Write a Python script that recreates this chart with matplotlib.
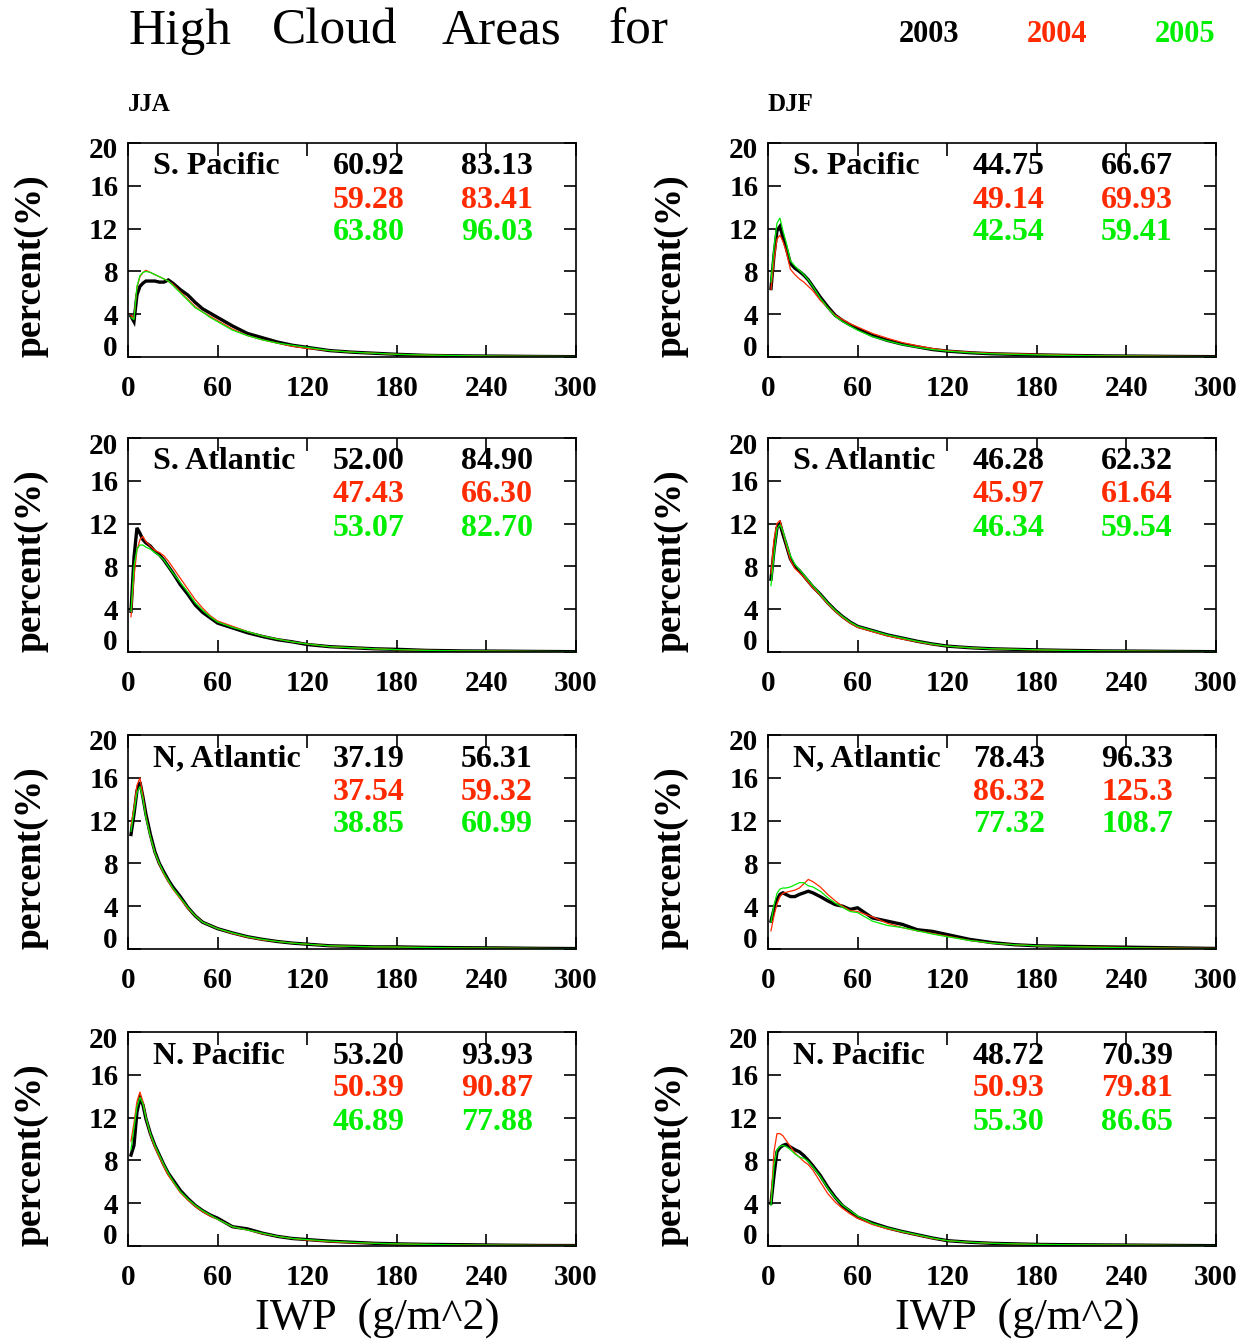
import matplotlib
matplotlib.use("Agg")
import matplotlib.pyplot as plt

W, H = 1255, 1340
DPI = 100

iwp = [2, 4, 6, 8, 10, 12, 15, 18, 21, 24, 27, 30, 35, 40, 45, 50, 55, 60, 70, 80,
       90, 100, 110, 120, 135, 150, 165, 180, 200, 225, 250, 275, 300]

years = ["2003", "2004", "2005"]
year_colors = ["#000000", "#ff2a00", "#00ee00"]
seasons = ["JJA", "DJF"]
regions = ["S. Pacific", "S. Atlantic", "N, Atlantic", "N. Pacific"]
title_words = ["High", "Cloud", "Areas", "for"]

# ---- JJA ----
jja_spac_2003 = [3.8, 3.3, 5.8, 6.6, 6.9, 7.1, 7.1, 7.1, 7.0, 7.0, 7.2, 6.9, 6.3, 5.8, 5.1, 4.5, 4.1, 3.7, 2.9, 2.2,
                 1.8, 1.4, 1.1, 0.9, 0.6, 0.45, 0.35, 0.25, 0.15, 0.1, 0.08, 0.05, 0.03]
jja_spac_2004 = [3.9, 3.6, 6.5, 7.5, 7.9, 8.1, 7.9, 7.7, 7.5, 7.3, 7.1, 6.8, 6.1, 5.4, 4.7, 4.2, 3.8, 3.4, 2.6, 2.0,
                 1.6, 1.3, 1.0, 0.8, 0.6, 0.45, 0.35, 0.25, 0.18, 0.12, 0.08, 0.06, 0.04]
jja_spac_2005 = [3.7, 3.5, 6.6, 7.6, 7.9, 8.0, 7.9, 7.7, 7.5, 7.3, 7.1, 6.7, 6.0, 5.3, 4.6, 4.2, 3.7, 3.3, 2.5, 2.0,
                 1.6, 1.3, 1.1, 0.9, 0.6, 0.45, 0.35, 0.25, 0.18, 0.12, 0.08, 0.06, 0.04]

jja_satl_2003 = [3.8, 8.8, 11.6, 11.1, 10.5, 10.2, 9.9, 9.4, 9.1, 8.6, 8.0, 7.4, 6.3, 5.4, 4.4, 3.7, 3.2, 2.7, 2.25, 1.8,
                 1.45, 1.15, 0.95, 0.7, 0.5, 0.4, 0.3, 0.25, 0.15, 0.1, 0.08, 0.05, 0.03]
jja_satl_2004 = [3.3, 7.0, 9.5, 10.5, 10.8, 10.3, 9.9, 9.5, 9.3, 9.0, 8.5, 7.9, 6.9, 5.9, 4.9, 4.1, 3.4, 2.9, 2.4, 1.9,
                 1.5, 1.2, 0.95, 0.75, 0.5, 0.4, 0.3, 0.22, 0.15, 0.1, 0.08, 0.05, 0.03]
jja_satl_2005 = [3.8, 8.0, 9.6, 10.0, 10.0, 9.8, 9.6, 9.3, 9.0, 8.6, 8.0, 7.4, 6.5, 5.6, 4.6, 3.9, 3.3, 2.8, 2.3, 1.9,
                 1.5, 1.2, 0.95, 0.75, 0.5, 0.4, 0.3, 0.22, 0.15, 0.1, 0.08, 0.05, 0.03]

jja_natl_2003 = [10.7, 12.6, 14.8, 15.6, 14.2, 12.6, 10.7, 9.1, 8.0, 7.2, 6.45, 5.8, 4.9, 3.9, 3.1, 2.5, 2.2, 1.9, 1.5, 1.15,
                 0.9, 0.7, 0.55, 0.45, 0.3, 0.25, 0.2, 0.2, 0.15, 0.12, 0.1, 0.06, 0.04]
jja_natl_2004 = [11.5, 13.2, 15.3, 16.0, 14.3, 12.4, 10.5, 9.0, 7.9, 7.0, 6.3, 5.6, 4.7, 3.8, 3.1, 2.5, 2.2, 1.9, 1.45, 1.1,
                 0.85, 0.7, 0.55, 0.45, 0.3, 0.25, 0.2, 0.18, 0.14, 0.1, 0.08, 0.05, 0.03]
jja_natl_2005 = [11.0, 12.8, 14.6, 15.2, 14.0, 12.3, 10.5, 9.0, 8.0, 7.1, 6.4, 5.7, 4.8, 3.9, 3.1, 2.5, 2.2, 1.9, 1.5, 1.15,
                 0.9, 0.7, 0.55, 0.45, 0.3, 0.25, 0.2, 0.18, 0.14, 0.1, 0.08, 0.05, 0.03]

jja_npac_2003 = [8.5, 9.4, 12.5, 13.8, 13.2, 11.9, 10.5, 9.4, 8.5, 7.6, 6.8, 6.2, 5.2, 4.45, 3.8, 3.3, 2.9, 2.6, 1.8, 1.6,
                 1.2, 0.9, 0.7, 0.6, 0.45, 0.35, 0.25, 0.2, 0.15, 0.12, 0.08, 0.05, 0.04]
jja_npac_2004 = [9.8, 11.5, 13.5, 14.4, 13.5, 12.0, 10.4, 9.2, 8.3, 7.4, 6.6, 6.0, 5.0, 4.3, 3.7, 3.2, 2.8, 2.5, 1.8, 1.5,
                 1.15, 0.9, 0.7, 0.55, 0.4, 0.3, 0.25, 0.2, 0.15, 0.1, 0.08, 0.06, 0.05]
jja_npac_2005 = [9.0, 11.0, 13.0, 13.9, 13.3, 12.0, 10.5, 9.4, 8.5, 7.6, 6.8, 6.1, 5.1, 4.4, 3.8, 3.3, 2.9, 2.5, 1.8, 1.5,
                 1.2, 0.9, 0.7, 0.6, 0.45, 0.35, 0.25, 0.2, 0.15, 0.1, 0.08, 0.05, 0.04]

# ---- DJF ----
djf_spac_2003 = [6.4, 9.5, 11.8, 12.2, 11.2, 10.3, 8.75, 8.3, 8.0, 7.65, 7.2, 6.6, 5.6, 4.7, 3.9, 3.4, 3.0, 2.65, 2.0, 1.55,
                 1.2, 0.95, 0.7, 0.55, 0.4, 0.3, 0.25, 0.2, 0.15, 0.1, 0.08, 0.05, 0.03]
djf_spac_2004 = [6.3, 9.0, 11.0, 11.4, 10.8, 10.0, 8.2, 7.7, 7.3, 7.0, 6.6, 6.2, 5.3, 4.6, 3.9, 3.5, 3.1, 2.8, 2.2, 1.75,
                 1.35, 1.05, 0.8, 0.6, 0.45, 0.35, 0.3, 0.25, 0.18, 0.12, 0.1, 0.06, 0.04]
djf_spac_2005 = [7.0, 10.2, 12.5, 13.0, 11.8, 10.8, 9.0, 8.5, 8.1, 7.7, 7.2, 6.6, 5.5, 4.6, 3.8, 3.3, 2.9, 2.5, 1.9, 1.5,
                 1.15, 0.9, 0.7, 0.55, 0.4, 0.3, 0.25, 0.2, 0.15, 0.1, 0.08, 0.05, 0.03]

djf_satl_2003 = [6.8, 9.5, 11.6, 12.0, 11.0, 10.1, 8.7, 8.0, 7.6, 7.1, 6.6, 6.1, 5.4, 4.6, 3.9, 3.3, 2.8, 2.4, 2.0, 1.6,
                 1.3, 1.0, 0.75, 0.55, 0.4, 0.3, 0.25, 0.2, 0.15, 0.1, 0.08, 0.05, 0.03]
djf_satl_2004 = [7.3, 10.5, 12.0, 12.3, 11.2, 10.1, 8.6, 7.8, 7.4, 7.0, 6.5, 6.0, 5.3, 4.5, 3.8, 3.2, 2.7, 2.3, 1.9, 1.5,
                 1.2, 0.95, 0.7, 0.55, 0.4, 0.3, 0.25, 0.2, 0.15, 0.1, 0.08, 0.05, 0.03]
djf_satl_2005 = [6.2, 9.0, 11.5, 11.9, 11.3, 10.3, 9.0, 8.2, 7.7, 7.2, 6.7, 6.2, 5.4, 4.6, 3.9, 3.3, 2.8, 2.4, 2.0, 1.6,
                 1.3, 1.0, 0.75, 0.55, 0.4, 0.3, 0.25, 0.2, 0.15, 0.1, 0.08, 0.05, 0.03]

djf_natl_2003 = [2.6, 3.7, 4.6, 5.1, 5.25, 5.1, 4.9, 4.9, 5.1, 5.25, 5.4, 5.25, 4.9, 4.5, 4.15, 4.0, 3.7, 3.85, 2.9, 2.6,
                 2.3, 1.8, 1.65, 1.35, 0.9, 0.6, 0.4, 0.3, 0.25, 0.2, 0.15, 0.1, 0.05]
djf_natl_2004 = [1.7, 3.1, 4.2, 4.9, 5.2, 5.3, 5.4, 5.5, 5.7, 6.1, 6.5, 6.3, 5.8, 5.1, 4.5, 4.0, 3.6, 3.5, 3.0, 2.4,
                 2.0, 1.7, 1.45, 1.2, 0.8, 0.55, 0.4, 0.3, 0.22, 0.18, 0.12, 0.08, 0.05]
djf_natl_2005 = [2.5, 4.1, 5.2, 5.6, 5.7, 5.7, 5.8, 6.0, 6.2, 6.2, 5.9, 5.8, 5.4, 4.8, 4.3, 3.9, 3.5, 3.4, 2.6, 2.2,
                 2.0, 1.7, 1.4, 1.15, 0.8, 0.55, 0.4, 0.3, 0.22, 0.15, 0.1, 0.06, 0.04]

djf_npac_2003 = [4.0, 6.6, 8.8, 9.2, 9.4, 9.5, 9.25, 9.0, 8.8, 8.45, 8.0, 7.5, 6.6, 5.5, 4.55, 3.75, 3.25, 2.7, 2.15, 1.7,
                 1.35, 1.05, 0.75, 0.5, 0.35, 0.25, 0.2, 0.15, 0.12, 0.1, 0.08, 0.05, 0.03]
djf_npac_2004 = [4.2, 8.8, 10.5, 10.5, 10.3, 9.9, 9.3, 8.7, 8.3, 7.9, 7.6, 7.1, 6.0, 4.9, 4.1, 3.5, 3.0, 2.6, 2.0, 1.6,
                 1.3, 1.0, 0.7, 0.5, 0.35, 0.25, 0.2, 0.15, 0.12, 0.1, 0.08, 0.05, 0.03]
djf_npac_2005 = [3.8, 7.5, 9.0, 9.3, 9.4, 9.3, 9.0, 8.6, 8.3, 8.2, 7.9, 7.4, 6.5, 5.4, 4.5, 3.8, 3.3, 2.8, 2.1, 1.7,
                 1.35, 1.05, 0.75, 0.5, 0.35, 0.25, 0.2, 0.15, 0.12, 0.1, 0.08, 0.05, 0.03]

# annotation numbers per panel: [2003, 2004, 2005] for two columns
jja_col1 = [["60.92", "59.28", "63.80"], ["52.00", "47.43", "53.07"],
            ["37.19", "37.54", "38.85"], ["53.20", "50.39", "46.89"]]
jja_col2 = [["83.13", "83.41", "96.03"], ["84.90", "66.30", "82.70"],
            ["56.31", "59.32", "60.99"], ["93.93", "90.87", "77.88"]]
djf_col1 = [["44.75", "49.14", "42.54"], ["46.28", "45.97", "46.34"],
            ["78.43", "86.32", "77.32"], ["48.72", "50.93", "55.30"]]
djf_col2 = [["66.67", "69.93", "59.41"], ["62.32", "61.64", "59.54"],
            ["96.33", "125.3", "108.7"], ["70.39", "79.81", "86.65"]]

yticks = [0, 4, 8, 12, 16, 20]
xticks = [0, 60, 120, 180, 240, 300]

series = {
    (0, 0): [jja_spac_2003, jja_spac_2004, jja_spac_2005],
    (1, 0): [jja_satl_2003, jja_satl_2004, jja_satl_2005],
    (2, 0): [jja_natl_2003, jja_natl_2004, jja_natl_2005],
    (3, 0): [jja_npac_2003, jja_npac_2004, jja_npac_2005],
    (0, 1): [djf_spac_2003, djf_spac_2004, djf_spac_2005],
    (1, 1): [djf_satl_2003, djf_satl_2004, djf_satl_2005],
    (2, 1): [djf_natl_2003, djf_natl_2004, djf_natl_2005],
    (3, 1): [djf_npac_2003, djf_npac_2004, djf_npac_2005],
}
numbers = {0: (jja_col1, jja_col2), 1: (djf_col1, djf_col2)}

SERIF = ["Liberation Serif", "DejaVu Serif"]
plt.rcParams["font.family"] = SERIF

fig = plt.figure(figsize=(W / DPI, H / DPI), dpi=DPI)

def fx(px):
    return px / W

def fy(py):
    return 1 - py / H

col_left = [128, 768]
row_top = [143, 438, 735, 1032]
AW, AH = 448, 214
line_widths = [2.4, 0.9, 0.9]
TICKFS = 21
NUMFS = 23
PX = 72.0 / DPI  # points per pixel

for (r, c), ys in series.items():
    left, top = col_left[c], row_top[r]
    ax = fig.add_axes([fx(left), fy(top + AH), AW / W, AH / H])
    for yv, colr, lw in zip(ys, year_colors, line_widths):
        ax.plot(iwp, yv, color=colr, lw=lw, solid_joinstyle="miter")
    ax.set_xlim(0, 300)
    ax.set_ylim(0, 20)
    ax.set_xticks(xticks)
    ax.set_yticks(yticks)
    ax.set_xticklabels([str(v) for v in xticks])
    # end labels are drawn inside the axis range, as in the original
    ax.set_yticklabels(["" if v in (yticks[0], yticks[-1]) else str(v) for v in yticks])
    ax.tick_params(direction="in", length=9, width=1.2, top=True, right=True,
                   labelsize=TICKFS)
    ax.tick_params(axis="x", pad=13)
    ax.tick_params(axis="y", pad=7)
    for lab in ax.get_xticklabels() + ax.get_yticklabels():
        lab.set_fontweight("bold")
    for v, dy in ((yticks[0], 9), (yticks[-1], -8)):
        ax.annotate(str(v), xy=(0, v), xycoords=("axes fraction", "data"),
                    xytext=(-10 * PX, dy * PX), textcoords="offset points",
                    ha="right", va="center", fontsize=TICKFS, fontweight="bold")
    for sp in ax.spines.values():
        sp.set_linewidth(1.2)

    # panel annotations
    fig.text(fx(left + 25), fy(top + 24), regions[r], fontsize=NUMFS,
             fontweight="bold", va="center", ha="left")
    c1, c2 = numbers[c]
    for k in range(3):
        fig.text(fx(left + 205), fy(top + 24 + 33 * k), c1[r][k], fontsize=NUMFS,
                 fontweight="bold", color=year_colors[k], va="center", ha="left")
        fig.text(fx(left + 333), fy(top + 24 + 33 * k), c2[r][k], fontsize=NUMFS,
                 fontweight="bold", color=year_colors[k], va="center", ha="left")

    # y label
    fig.text(fx(left - 97), fy(top + 123), "percent(%)", rotation=90,
             fontsize=27, fontweight="bold", va="center", ha="center")

# x labels
for c in range(2):
    fig.text(fx(col_left[c] + 127), fy(1330), "IWP  (g/m^2)", fontsize=32,
             va="baseline", ha="left")

# title (word by word, as spaced in the original), season labels, legend
for word, xw in zip(title_words, [128, 272, 441, 608]):
    fig.text(fx(xw), fy(44), word, fontsize=37, va="baseline", ha="left")
for c, s in enumerate(seasons):
    fig.text(fx(col_left[c]), fy(111), s, fontsize=18, fontweight="bold",
             va="baseline", ha="left")
for yr, colr, xc in zip(years, year_colors, [929, 1057, 1185]):
    fig.text(fx(xc), fy(35), yr, fontsize=22, fontweight="bold", color=colr,
             va="center", ha="center")

fig.savefig("out.png", dpi=DPI)
